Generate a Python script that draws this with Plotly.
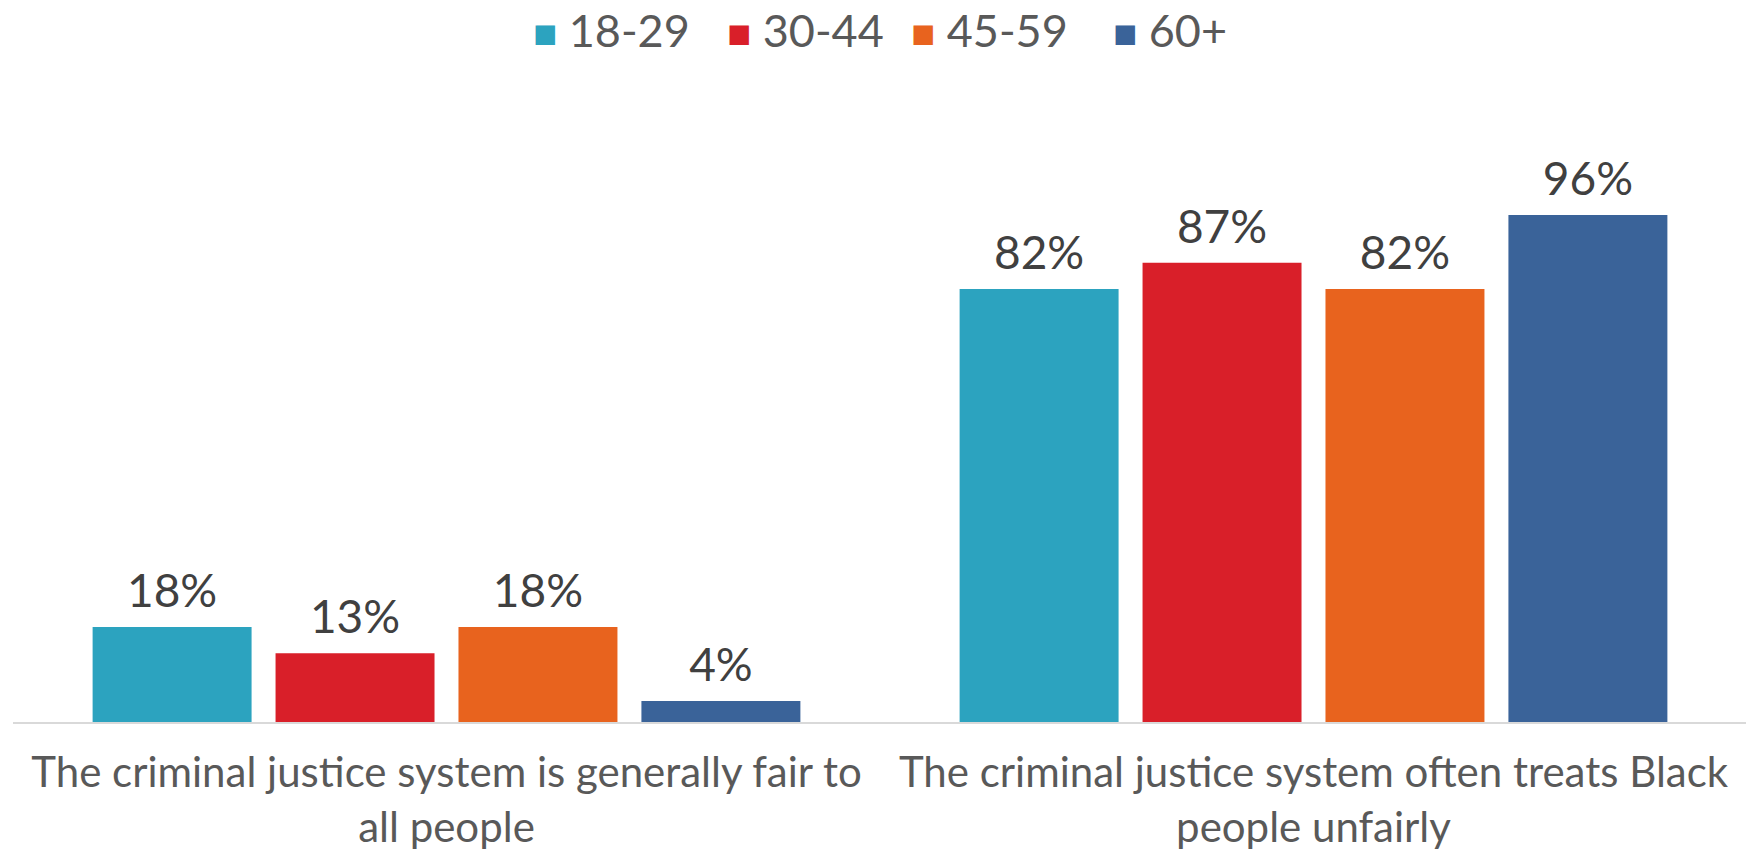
import plotly.graph_objects as go

categories = ["The criminal justice system is generally fair to<br>all people",
              "The criminal justice system often treats Black<br>people unfairly"]
series_names = ["18-29", "30-44", "45-59", "60+"]
values = {
    "18-29": [18, 82],
    "30-44": [13, 87],
    "45-59": [18, 82],
    "60+": [4, 96],
}
colors = {"18-29": "#2CA3BF", "30-44": "#D91F29", "45-59": "#E8631E", "60+": "#3A6399"}

FONT = "Lato"
BARGAP = 0.156
fig = go.Figure()
for name in series_names:
    fig.add_trace(go.Bar(
        name=name, x=categories, y=values[name],
        marker=dict(color=colors[name], line=dict(width=0)),
        showlegend=False, hoverinfo="skip", offsetgroup=name,
    ))
# data labels, grouped like the bars
for name in series_names:
    fig.add_trace(go.Scatter(
        name=name, x=categories, y=values[name], mode="markers+text",
        marker=dict(size=12, opacity=0, color=colors[name]),
        text=[f"{v}%" for v in values[name]], textposition="top center",
        textfont=dict(family=FONT, size=46, color="#404040"),
        cliponaxis=False, showlegend=False, offsetgroup=name,
    ))

fig.update_layout(
    width=1746, height=845,
    barmode="group", bargap=BARGAP, bargroupgap=0.131,
    scattermode="group", scattergap=BARGAP,
    plot_bgcolor="white", paper_bgcolor="white",
    margin=dict(l=5, r=7, t=92, b=131),
    font=dict(family=FONT, color="#595959"),
    showlegend=False,
    xaxis=dict(showline=True, linecolor="#D9D9D9", linewidth=2, ticks="",
               tickfont=dict(size=42, color="#595959"), automargin=False,
               ticklabelstandoff=13, tickangle=0),
    yaxis=dict(range=[0, 117.8], visible=False),
)

# legend drawn as paper annotations (square glyph + label)
legend_x = [0.2990, 0.4106, 0.5170, 0.6335]
for name, lx in zip(series_names, legend_x):
    fig.add_annotation(xref="paper", yref="paper", x=lx, y=1.113, yanchor="middle",
                       xanchor="left", showarrow=False,
                       text=f"<span style='color:{colors[name]};font-size:40px'>■</span> {name}",
                       font=dict(family=FONT, size=45, color="#595959"))
fig.write_html("out.html")
